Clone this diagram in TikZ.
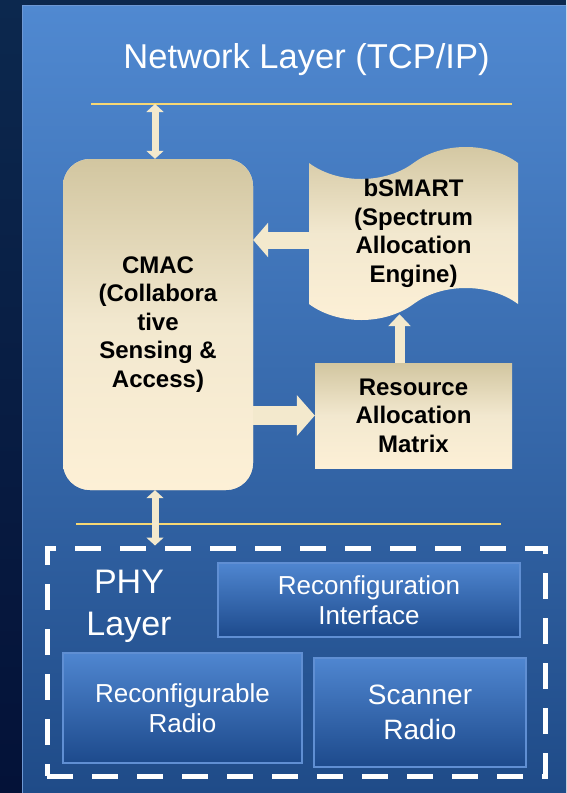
\documentclass[tikz,border=0pt]{standalone}
\usepackage{fontspec}
\setmainfont{Liberation Sans}
\usetikzlibrary{shapes.symbols,arrows.meta}
\definecolor{pagebgtop}{RGB}{12,40,78}
\definecolor{pagebgbot}{RGB}{4,18,56}
\definecolor{paneltop}{RGB}{80,137,209}
\definecolor{panelbot}{RGB}{31,75,136}
\definecolor{paneledge}{RGB}{110,152,212}
\definecolor{creamtop}{RGB}{210,198,160}
\definecolor{creammid}{RGB}{242,232,207}
\definecolor{creambot}{RGB}{253,240,214}
\definecolor{arrowfill}{RGB}{243,233,205}
\definecolor{layerline}{RGB}{247,215,116}
\definecolor{boxtop}{RGB}{79,134,208}
\definecolor{boxbot}{RGB}{29,74,140}
\definecolor{boxedge}{RGB}{96,143,211}

\begin{document}
\begin{tikzpicture}[x=1pt,y=-1pt,
    engine/.style={top color=creamtop, bottom color=creambot, middle color=creammid,
        font=\fontsize{24}{28.5}\selectfont\bfseries, align=center, inner sep=0pt},
    phybox/.style={top color=boxtop, bottom color=boxbot, draw=boxedge, line width=1.5pt,
        text=white, align=center, inner sep=0pt},
    blockarrow/.style={line width=17pt, color=arrowfill, -{Triangle[length=15pt,width=34pt]}},
    layerarrow/.style={line width=7pt, color=arrowfill,
        {Triangle[length=8pt,width=17pt]}-{Triangle[length=8pt,width=17pt]}}]
    \useasboundingbox (0,0) rectangle (566,793);

    % backdrop and slide panel
    \shade[top color=pagebgtop, bottom color=pagebgbot] (0,0) rectangle (566,793);
    \shade[top color=paneltop, bottom color=panelbot] (22,5) rectangle (566,793);
    \draw[paneledge, line width=1pt] (22,793) -- (22,5) -- (566,5);

    \node[text=white, font=\fontsize{34.5}{40}\selectfont, anchor=base] (title) at (306.5,68) {Network Layer (TCP/IP)};

    % layer boundaries
    \coordinate (netl) at (91,104);
    \coordinate (netr) at (512,104);
    \coordinate (phyl) at (76,524);
    \coordinate (phyr) at (501,524);
    \draw[layerline, line width=2.5pt] (netl) -- (netr);
    \draw[layerline, line width=2.5pt] (phyl) -- (phyr);

    \node[engine, fill=creambot, rounded corners=27pt, minimum width=190pt, minimum height=331pt] (cmac) at (158,324.5) {CMAC\\(Collabora\\tive\\Sensing \&\\Access)};
    \node[engine, tape, tape bend height=32pt, minimum width=209pt, minimum height=173pt] (bsmart) at (413.5,233.5) {bSMART\\(Spectrum\\Allocation\\Engine)};
    \node[engine, minimum width=197pt, minimum height=105pt] (ram) at (413.5,415.5) {Resource\\Allocation\\Matrix};

    % PHY layer group
    \node[draw=white, line width=5pt, dash pattern=on 26pt off 19pt, minimum width=498pt, minimum height=228pt] (phy) at (296,662) {};
    \node[text=white, font=\fontsize{34}{42}\selectfont, align=center] (phylabel) at (129,606) {PHY\\Layer};
    \node[phybox, minimum width=302pt, minimum height=74pt, font=\fontsize{26}{30}\selectfont] (rci) at (369,600) {Reconfiguration\\Interface};
    \node[phybox, minimum width=239pt, minimum height=110pt, font=\fontsize{26}{30}\selectfont] (rradio) at (182.5,708) {Reconfigurable\\Radio};
    \node[phybox, minimum width=212pt, minimum height=109pt, font=\fontsize{28}{35}\selectfont] (scanner) at (420,712.5) {Scanner\\Radio};

    % flows
    \draw[layerarrow] ([xshift=-3pt]cmac.north) -- ([xshift=-3pt]cmac.north |- netl);
    \draw[layerarrow] ([xshift=-3pt]cmac.south) -- ([xshift=-3pt]cmac.south |- phy.north);
    \draw[blockarrow] ([yshift=-6.5pt]bsmart.west) -- ([yshift=-6.5pt]bsmart.west -| cmac.east);
    \draw[blockarrow, line width=19pt, -{Triangle[length=18pt,width=40pt]}] (cmac.east |- ram.west) -- (ram.west);
    \draw[blockarrow, line width=10pt, -{Triangle[length=12pt,width=22pt]}] ([xshift=-14pt]ram.north) -- ([xshift=-14pt,yshift=-10pt]ram.north |- bsmart.south);
\end{tikzpicture}
\end{document}
